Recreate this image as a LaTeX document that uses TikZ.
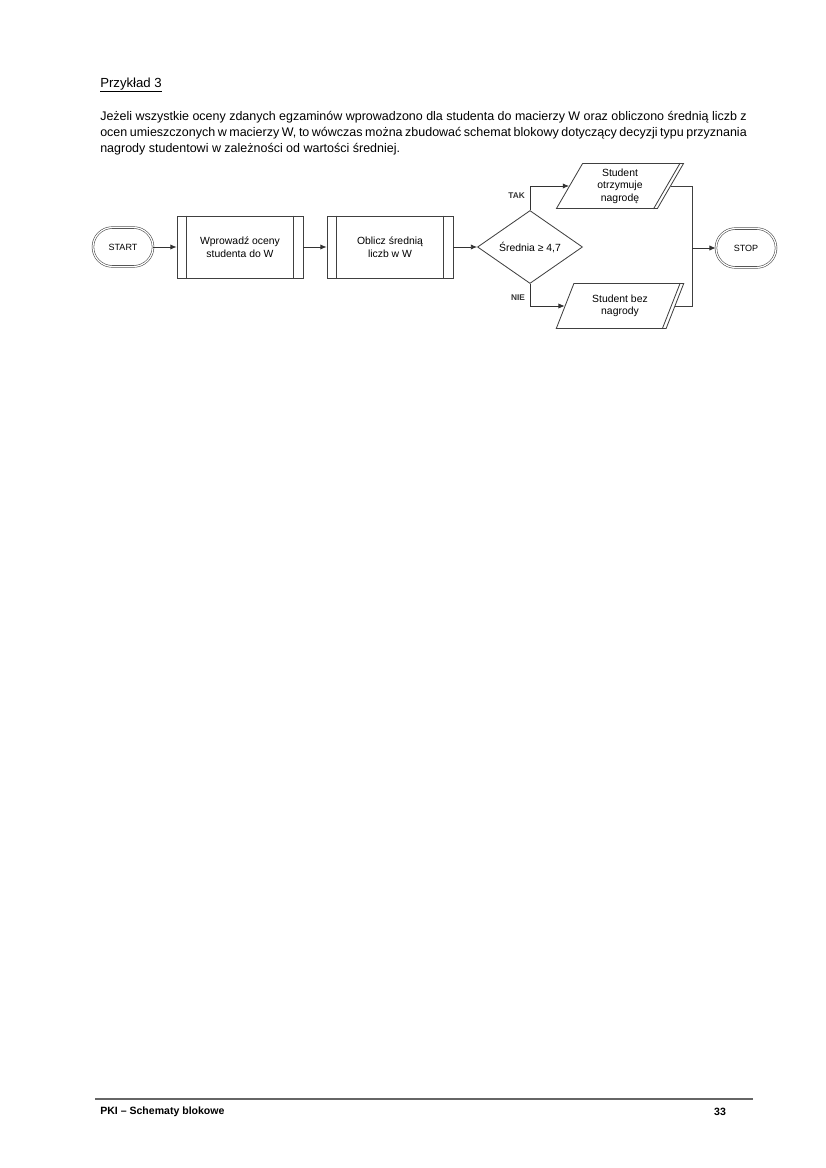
\documentclass[tikz,border=0pt]{standalone}
\usepackage{fontspec}
\setmainfont{Liberation Sans}
\usetikzlibrary{shapes.geometric,shapes.misc,arrows.meta}

\begin{document}
\begin{tikzpicture}[x=0.7208pt,y=-0.7208pt,
    term/.style={rounded rectangle,draw=black!75,double=white,double distance=0.9pt,minimum width=50pt,minimum height=28pt,font=\fontsize{6.5}{8}\selectfont},
    proc/.style={rectangle,draw=black!75,line width=0.6pt,minimum width=90.8pt,minimum height=44.7pt,align=center,font=\fontsize{7.5}{9.4}\selectfont},
    dec/.style={diamond,draw=black!75,line width=0.6pt,minimum width=75.7pt,minimum height=52.6pt,inner sep=0pt,font=\fontsize{7.5}{9.4}\selectfont},
    io/.style={trapezium,trapezium left angle=66,trapezium right angle=114,trapezium stretches=true,draw=black!75,line width=0.6pt,minimum width=92pt,minimum height=32.4pt,inner sep=1pt,align=center,font=\fontsize{7.5}{9}\selectfont},
    flow/.style={-{Latex[length=4.5pt,width=3.8pt]},black!80,line width=0.6pt},
    lab/.style={font=\bfseries\fontsize{6}{7}\selectfont}]

  \useasboundingbox (0,0) rectangle (826,1168);

  % page text
  \node(head) at (100,85) [anchor=west,inner sep=0pt,font=\fontsize{9.5}{11}\selectfont] {\underline{Przykład 3}};
  \node(txt) at (100,133) [anchor=west,inner sep=0pt,text width=466pt,align=justify,font=\fontsize{9}{11.7}\selectfont]
    {Jeżeli wszystkie oceny zdanych egzaminów wprowadzono dla studenta do macierzy W oraz obliczono średnią liczb z ocen umieszczonych w macierzy W, to wówczas można zbudować schemat blokowy dotyczący decyzji typu przyznania nagrody studentowi w zależności od wartości średniej.};

  % flowchart
  \node(start) at (123,247) [term] {START};
  \node(wpr) at (240,247) [proc] {Wprowadź oceny\\studenta do W};
  \node(obl) at (390,247) [proc] {Oblicz średnią\\liczb w W};
  \node(sr) at (530,247) [dec] {Średnia ≥ 4,7};
  \node(tak) at (620,186) [io] {Student\\otrzymuje\\nagrodę};
  \node(nie) at (620,306) [io] {Student bez\\nagrody};
  \node(stop) at (746,248) [term] {STOP};
  \coordinate(j) at (692,248);

  \draw[black!75,line width=0.6pt] ([xshift=7.2pt]wpr.north west) -- ([xshift=7.2pt]wpr.south west)
    ([xshift=-7.2pt]wpr.north east) -- ([xshift=-7.2pt]wpr.south east);
  \draw[black!75,line width=0.6pt] ([xshift=7.2pt]obl.north west) -- ([xshift=7.2pt]obl.south west)
    ([xshift=-7.2pt]obl.north east) -- ([xshift=-7.2pt]obl.south east);
  \draw[black!75,line width=0.6pt] ([xshift=-3pt]tak.top right corner) -- ([xshift=-3pt]tak.bottom right corner);
  \draw[black!75,line width=0.6pt] ([xshift=-3pt]nie.top right corner) -- ([xshift=-3pt]nie.bottom right corner);

  \draw[flow] (start.east) -- (wpr.west);
  \draw[flow] (wpr.east) -- (obl.west);
  \draw[flow] (obl.east) -- (sr.west);
  \draw[flow] (sr.north) |- node[lab,pos=0.3,left]{TAK} (tak.west);
  \draw[flow] (sr.south) |- node[lab,pos=0.3,left]{NIE} (nie.west);
  \draw[black!75,line width=0.6pt] (tak.east) -| (j);
  \draw[black!75,line width=0.6pt] (nie.east) -| (j);
  \draw[flow] (j) -- (stop.west);

  % footer
  \coordinate(fl) at (95,1099);
  \coordinate(fr) at (753,1099);
  \draw[black!60,line width=0.9pt] (fl) -- (fr);
  \node(foot) at (100,1112) [anchor=west,inner sep=0pt,font=\bfseries\fontsize{7.6}{9}\selectfont] {PKI – Schematy blokowe};
  \node(page) at (720,1112) [font=\bfseries\fontsize{7.6}{9}\selectfont] {33};
\end{tikzpicture}
\end{document}
